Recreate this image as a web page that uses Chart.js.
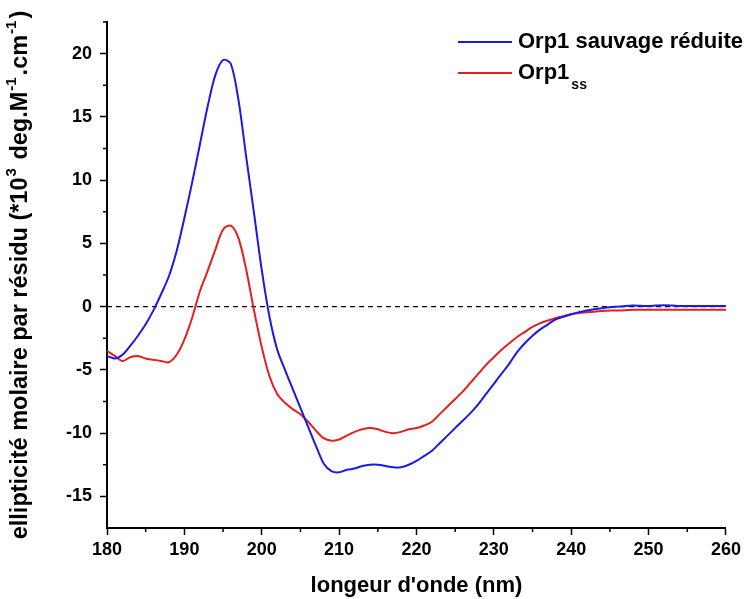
<!DOCTYPE html>
<html><head><meta charset="utf-8">
<script src="https://cdn.jsdelivr.net/npm/chart.js@4/dist/chart.umd.min.js"></script>
<style>html,body{margin:0;padding:0;background:#fff;overflow:hidden;}</style>
</head><body>
<canvas id="c" width="745" height="599"></canvas>
<script>
const wavelengths = [180,181,182,183,184,185,186,187,188,189,190,191,192,193,194,195,196,197,198,199,
  200,201,202,203,204,205,206,207,208,209,210,211,212,213,214,215,216,217,218,219,
  220,221,222,223,224,225,226,227,228,229,230,231,232,233,234,235,236,237,238,239,
  240,241,242,243,244,245,246,247,248,249,250,251,252,253,254,255,256,257,258,259,260];
const sauvage = [-3.9,-4.1,-3.8,-3.1,-2.3,-1.4,-0.3,1.0,2.4,4.4,7.0,9.8,12.8,15.8,18.3,19.5,19.2,16.3,11.8,7.4,
  2.9,-0.8,-3.4,-5.0,-6.5,-8.0,-9.5,-11.0,-12.4,-13.0,-13.1,-12.9,-12.8,-12.6,-12.5,-12.5,-12.6,-12.7,-12.7,-12.5,
  -12.2,-11.8,-11.4,-10.8,-10.2,-9.6,-9.0,-8.4,-7.7,-6.9,-6.1,-5.3,-4.5,-3.6,-2.9,-2.3,-1.8,-1.4,-1.0,-0.8,
  -0.6,-0.45,-0.3,-0.2,-0.12,-0.05,0.0,0.05,0.08,0.06,0.05,0.08,0.1,0.08,0.05,0.04,0.05,0.05,0.04,0.05,0.05];
const orp1ss = [-3.5,-3.9,-4.3,-4.0,-3.9,-4.1,-4.2,-4.3,-4.4,-3.8,-2.6,-0.9,1.2,2.8,4.5,6.1,6.4,5.4,2.9,-0.3,
  -3.2,-5.5,-6.9,-7.6,-8.1,-8.5,-9.1,-9.8,-10.4,-10.6,-10.5,-10.2,-9.9,-9.7,-9.6,-9.7,-9.9,-10.0,-9.9,-9.7,
  -9.6,-9.4,-9.1,-8.5,-7.9,-7.3,-6.7,-6.0,-5.3,-4.6,-4.0,-3.4,-2.9,-2.4,-2.0,-1.6,-1.3,-1.1,-0.9,-0.75,
  -0.6,-0.5,-0.45,-0.4,-0.35,-0.3,-0.3,-0.28,-0.25,-0.25,-0.25,-0.25,-0.25,-0.25,-0.25,-0.25,-0.25,-0.25,-0.25,-0.25,-0.25];
const seriesLabels = ['Orp1 sauvage réduite', 'Orp1'];
const seriesSub = ['', 'ss'];
const seriesColors = ['#1a1ae6', '#e61e1e'];
const xTicks = [180,190,200,210,220,230,240,250,260];
const yTicks = [-15,-10,-5,0,5,10,15,20];
const xMinorTicks = [185,195,205,215,225,235,245,255];
const yMinorTicks = [-12.5,-7.5,-2.5,2.5,7.5,12.5,17.5,22.5];
const xTitle = "longeur d'onde (nm)";
const yTitleParts = [['ellipticité molaire par résidu (*10', 0], ['3', 1], [' deg.M', 0], ['-1', 1], ['.cm', 0], ['-1', 1], [')', 0]];

const FONT = '"Liberation Sans", Arial, sans-serif';

const extras = {
  id: 'extras',
  beforeDatasetsDraw(chart) {
    const {ctx, chartArea, scales} = chart;
    const y0 = scales.y.getPixelForValue(0);
    ctx.save();
    ctx.strokeStyle = '#000';
    ctx.lineWidth = 1.2;
    ctx.setLineDash([5, 4]);
    ctx.beginPath();
    ctx.moveTo(chartArea.left, y0);
    ctx.lineTo(chartArea.right, y0);
    ctx.stroke();
    ctx.restore();
  },
  afterDraw(chart) {
    const {ctx, chartArea, scales} = chart;
    ctx.save();
    ctx.strokeStyle = '#000';
    ctx.lineWidth = 1.5;
    xMinorTicks.forEach(v => {
      const px = scales.x.getPixelForValue(v);
      ctx.beginPath(); ctx.moveTo(px, chartArea.bottom); ctx.lineTo(px, chartArea.bottom + 4); ctx.stroke();
    });
    yMinorTicks.forEach(v => {
      const py = scales.y.getPixelForValue(v);
      ctx.beginPath(); ctx.moveTo(chartArea.left, py); ctx.lineTo(chartArea.left - 4, py); ctx.stroke();
    });
    // legend
    const lx0 = 458, lx1 = 512, ly = [42, 73];
    seriesLabels.forEach((lab, i) => {
      ctx.strokeStyle = seriesColors[i];
      ctx.lineWidth = 2;
      ctx.beginPath(); ctx.moveTo(lx0, ly[i]); ctx.lineTo(lx1, ly[i]); ctx.stroke();
      ctx.fillStyle = '#000';
      ctx.textBaseline = 'middle';
      ctx.textAlign = 'left';
      ctx.font = 'bold 22px ' + FONT;
      ctx.fillText(lab, 518, ly[i]);
      if (seriesSub[i]) {
        const w = ctx.measureText(lab).width;
        ctx.font = 'bold 14px ' + FONT;
        ctx.fillText(seriesSub[i], 518 + w + 2, ly[i] + 12);
      }
    });
    // x title
    ctx.fillStyle = '#000';
    ctx.font = 'bold 22px ' + FONT;
    ctx.textAlign = 'center';
    ctx.textBaseline = 'middle';
    ctx.fillText(xTitle, (chartArea.left + chartArea.right) / 2, 586);
    // y title
    ctx.translate(21, (chartArea.top + chartArea.bottom) / 2);
    ctx.rotate(-Math.PI / 2);
    const big = 'bold 23.5px ' + FONT, small = 'bold 15px ' + FONT;
    let total = 0;
    yTitleParts.forEach(([t, s]) => { ctx.font = s ? small : big; total += ctx.measureText(t).width + (s ? 3 : 0); });
    let x = -total / 2;
    ctx.textAlign = 'left';
    yTitleParts.forEach(([t, s]) => {
      ctx.font = s ? small : big;
      ctx.fillText(t, x + (s ? 1 : 0), s ? -9 : 0);
      x += ctx.measureText(t).width + (s ? 3 : 0);
    });
    ctx.restore();
  }
};

new Chart(document.getElementById('c'), {
  type: 'line',
  data: {
    datasets: [
      { label: seriesLabels[0], data: wavelengths.map((w, i) => ({x: w, y: sauvage[i]})), borderColor: seriesColors[0], borderWidth: 2, pointRadius: 0, tension: 0.3, fill: false },
      { label: seriesLabels[1], data: wavelengths.map((w, i) => ({x: w, y: orp1ss[i]})), borderColor: seriesColors[1], borderWidth: 2, pointRadius: 0, tension: 0.3, fill: false }
    ]
  },
  options: {
    responsive: false,
    animation: false,
    devicePixelRatio: 1,
    layout: { padding: { top: 22, right: 18, left: 0, bottom: 0 } },
    plugins: { legend: { display: false }, tooltip: { enabled: false } },
    scales: {
      x: {
        type: 'linear', min: 180, max: 260,
        afterBuildTicks(s) { s.ticks = xTicks.map(v => ({value: v})); },
        ticks: { color: '#000', font: { family: FONT, size: 18, weight: 'bold' }, padding: 4, maxRotation: 0 },
        grid: { drawOnChartArea: false, tickLength: 7, color: '#000', tickWidth: 1.5 },
        border: { display: true, color: '#000', width: 2 },
        afterFit(s) { s.height = 71; }
      },
      y: {
        type: 'linear', min: -17.5, max: 22.5,
        afterBuildTicks(s) { s.ticks = yTicks.map(v => ({value: v})); },
        ticks: { color: '#000', font: { family: FONT, size: 18, weight: 'bold' }, padding: 8 },
        grid: { drawOnChartArea: false, tickLength: 7, color: '#000', tickWidth: 1.5 },
        border: { display: true, color: '#000', width: 2 },
        afterFit(s) { s.width = 107; }
      }
    }
  },
  plugins: [extras]
});
</script>
</body></html>
